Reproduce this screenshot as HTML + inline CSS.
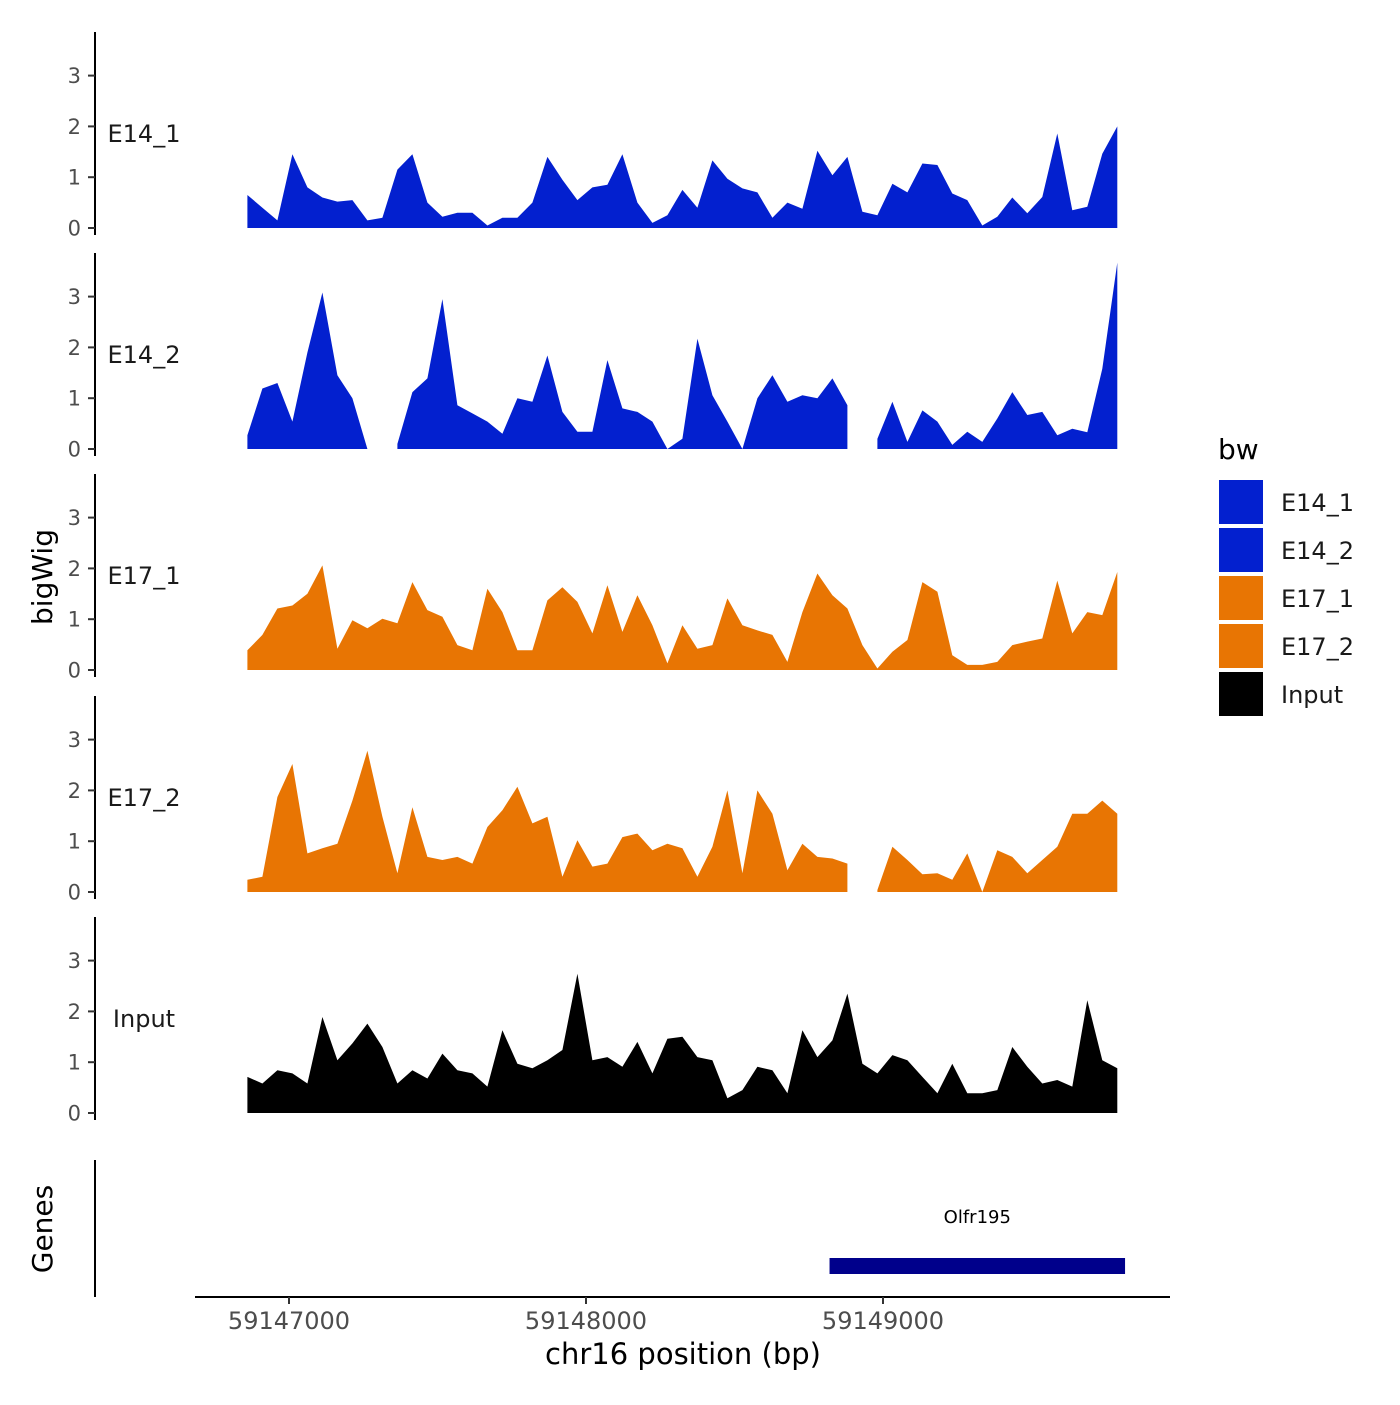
<!DOCTYPE html>
<html><head><meta charset="utf-8"><style>
html,body{margin:0;padding:0;background:#fff}
svg text{font-family:"DejaVu Sans","Liberation Sans",sans-serif}
</style></head><body>
<svg id="chart" width="1400" height="1400" viewBox="0 0 1400 1400" xmlns="http://www.w3.org/2000/svg">
<g id="panels"></g>
<g id="yaxes"></g>
<text x="52" y="577" font-size="28" text-anchor="middle" transform="rotate(-90 52 577)" fill="#000">bigWig</text>
<text x="52" y="1229" font-size="28" text-anchor="middle" transform="rotate(-90 52 1229)" fill="#000">Genes</text>
<line x1="95" y1="1160" x2="95" y2="1297" stroke="#000" stroke-width="2"/>
<line x1="195" y1="1297" x2="1170" y2="1297" stroke="#000" stroke-width="2"/>
<g id="xticks"></g>
<text x="683" y="1364" font-size="29" text-anchor="middle" fill="#000">chr16 position (bp)</text>
<g id="gene">
<rect id="genebar" y="1258" height="16" fill="#00008B"/>
<text id="genelabel" y="1223" font-size="18" text-anchor="middle" fill="#000">Olfr195</text>
</g>
<g id="legend">
<text x="1218" y="459" font-size="28" fill="#000">bw</text>
</g>
</svg>
<script>
const startBp = 59146860;
const stepBp = 50.5;
const trackNames = ["E14_1","E14_2","E17_1","E17_2","Input"];
const trackColors = ["#0320CF","#0320CF","#E87503","#E87503","#000000"];
const e14_1 = [0.65,0.4,0.15,1.45,0.8,0.6,0.52,0.55,0.15,0.2,1.15,1.45,0.5,0.22,0.3,0.3,0.05,0.2,0.2,0.5,1.4,0.95,0.55,0.8,0.85,1.45,0.5,0.1,0.25,0.75,0.4,1.33,0.97,0.78,0.7,0.2,0.5,0.38,1.52,1.04,1.4,0.32,0.25,0.87,0.7,1.27,1.24,0.68,0.55,0.05,0.22,0.6,0.29,0.61,1.86,0.35,0.42,1.46,2.0];
const e14_2 = [0.27,1.19,1.3,0.54,1.9,3.08,1.45,1.0,0.0,null,0.1,1.12,1.39,2.95,0.86,0.7,0.54,0.3,1.0,0.93,1.84,0.73,0.34,0.34,1.75,0.8,0.73,0.54,0.0,0.2,2.17,1.06,0.54,0.0,1.0,1.45,0.93,1.06,1.0,1.39,0.86,null,0.2,0.93,0.14,0.76,0.54,0.08,0.34,0.14,0.6,1.12,0.67,0.73,0.27,0.4,0.33,1.58,3.67];
const e17_1 = [0.39,0.69,1.21,1.27,1.5,2.06,0.42,0.98,0.82,1.01,0.92,1.73,1.18,1.05,0.49,0.39,1.6,1.14,0.39,0.39,1.37,1.63,1.34,0.72,1.67,0.75,1.47,0.88,0.13,0.88,0.42,0.49,1.41,0.88,0.78,0.69,0.16,1.14,1.9,1.47,1.21,0.49,0.03,0.36,0.59,1.73,1.54,0.29,0.1,0.1,0.16,0.49,0.56,0.62,1.76,0.72,1.14,1.08,1.93];
const e17_2 = [0.24,0.3,1.87,2.52,0.76,0.86,0.95,1.8,2.78,1.48,0.37,1.67,0.69,0.63,0.69,0.56,1.28,1.61,2.07,1.35,1.48,0.3,1.02,0.5,0.56,1.08,1.15,0.82,0.95,0.86,0.3,0.89,2.0,0.37,2.0,1.54,0.43,0.95,0.69,0.66,0.56,null,0.04,0.89,0.63,0.35,0.37,0.24,0.76,0.0,0.82,0.69,0.37,0.63,0.89,1.54,1.54,1.8,1.54];
const inputVals = [0.71,0.58,0.84,0.78,0.58,1.89,1.04,1.37,1.76,1.3,0.58,0.84,0.68,1.17,0.84,0.78,0.52,1.63,0.97,0.88,1.04,1.24,2.74,1.04,1.1,0.91,1.4,0.78,1.46,1.5,1.1,1.04,0.29,0.45,0.91,0.84,0.39,1.63,1.1,1.43,2.35,0.97,0.78,1.14,1.04,0.71,0.39,0.97,0.39,0.39,0.45,1.3,0.91,0.58,0.65,0.52,2.22,1.04,0.88];
const series = [e14_1,e14_2,e17_1,e17_2,inputVals];
const yTicks = [0,1,2,3];
const xTicks = [59147000,59148000,59149000];
const xTickLabels = ["59147000","59148000","59149000"];
const geneStart = 59148820;
const geneEnd = 59149815;
const geneName = "Olfr195";

const NS = "http://www.w3.org/2000/svg";
function xs(bp){ return 289 + (bp - 59147000) * 0.297; }
const panelZero = [228,449,670,892,1113];
const unitPx = 50.8;
function ys(p,v){ return panelZero[p] - v * unitPx; }
function mk(tag, attrs){ const e = document.createElementNS(NS, tag); for (const k in attrs) e.setAttribute(k, attrs[k]); return e; }

const panels = document.getElementById('panels');
const yaxes = document.getElementById('yaxes');
series.forEach((vals, p) => {
  const g = mk('g', {});
  
  
  panels.appendChild(g);
  let seg = [];
  const segs = [];
  vals.forEach((v, i) => {
    if (v === null) { if (seg.length) segs.push(seg); seg = []; }
    else seg.push([xs(startBp + i * stepBp), ys(p, v)]);
  });
  if (seg.length) segs.push(seg);
  segs.forEach(s => {
    let d = 'M' + s[0][0].toFixed(1) + ',' + panelZero[p];
    s.forEach(pt => { d += 'L' + pt[0].toFixed(1) + ',' + pt[1].toFixed(1); });
    d += 'L' + s[s.length-1][0].toFixed(1) + ',' + panelZero[p] + 'Z';
    const path = mk('path', {d: d, fill: trackColors[p]});
    
    
    g.appendChild(path);
  });
  const ax = mk('line', {x1:95, x2:95, y1: panelZero[p]-196, y2: panelZero[p]+7, stroke:'#000', 'stroke-width':2});
  
  
  yaxes.appendChild(ax);
  yTicks.forEach(t => {
    const y = ys(p, t);
    const tk = mk('line', {x1:88, x2:95, y1:y, y2:y, stroke:'#333', 'stroke-width':2});
    
    
    yaxes.appendChild(tk);
    const tl = mk('text', {x:81, y:y+7.5, 'font-size':21, 'text-anchor':'end', fill:'#4d4d4d'});
    
    
    tl.textContent = t;
    yaxes.appendChild(tl);
  });
  const lab = mk('text', {x:144, y: panelZero[p]-86, 'font-size':24, 'text-anchor':'middle', fill:'#1a1a1a'});
  
  
  lab.textContent = trackNames[p];
  yaxes.appendChild(lab);
});

const xt = document.getElementById('xticks');
xTicks.forEach((t, i) => {
  const x = xs(t);
  const l = mk('line', {x1:x, x2:x, y1:1297, y2:1304, stroke:'#333', 'stroke-width':2});
  
  
  xt.appendChild(l);
  const tx = mk('text', {x:x, y:1329, 'font-size':24, 'text-anchor':'middle', fill:'#4d4d4d'});
  
  
  tx.textContent = xTickLabels[i];
  xt.appendChild(tx);
});

const gb = document.getElementById('genebar');
gb.setAttribute('x', xs(geneStart));
gb.setAttribute('width', xs(geneEnd) - xs(geneStart));
const gl = document.getElementById('genelabel');
gl.setAttribute('x', (xs(geneStart) + xs(geneEnd)) / 2);
gl.textContent = geneName;

const leg = document.getElementById('legend');
trackNames.forEach((n, i) => {
  const y = 480 + i * 48;
  const r = mk('rect', {x:1219, y:y, width:44, height:44, fill:trackColors[i]});
  
  
  leg.appendChild(r);
  const t = mk('text', {x:1281, y:y+31, 'font-size':24, fill:'#1a1a1a'});
  
  
  t.textContent = n;
  leg.appendChild(t);
});
</script>
</body></html>
